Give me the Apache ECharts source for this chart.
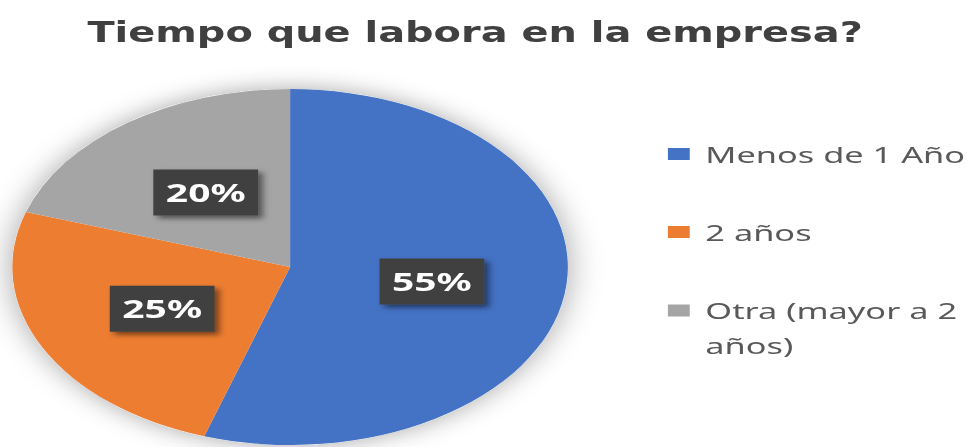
<!DOCTYPE html>
<html><head><meta charset="utf-8">
<script src="https://cdn.jsdelivr.net/npm/echarts@6/dist/echarts.min.js"></script>
<style>
html,body{margin:0;padding:0;background:#fff;overflow:hidden}
#wrap{width:980px;height:447px;overflow:hidden}
#chart{width:628px;height:447px;transform:scaleX(1.5605);transform-origin:0 0}
</style></head>
<body><div id="wrap"><div id="chart"></div></div>
<script>
const titleText = 'Tiempo que labora en la empresa?';
const categories = ['Menos de 1 Año', '2 años', 'Otra (mayor a 2 años)'];
const values = [55, 25, 20];
const colors = ['#4472C4', '#ED7D31', '#A5A5A5'];

const chart = echarts.init(document.getElementById('chart'), null, {renderer: 'svg'});
const legendText = {fontFamily: '"Noto Sans", sans-serif', fontSize: 22, color: '#595959', padding: [0, 0, 0, 5]};
const center = [185.9, 267];
const option = {
  animation: false,
  title: {
    text: titleText, left: 56, top: 12, padding: 0,
    textStyle: {fontFamily: '"Liberation Sans Narrow", "DejaVu Sans Condensed", sans-serif', fontWeight: 'bold', fontSize: 28.4, lineHeight: 40, color: '#404040'}
  },
  legend: [
    {
      orient: 'vertical', left: 428, top: 140, padding: 0, itemGap: 50,
      icon: 'rect', itemWidth: 14, itemHeight: 12, selectedMode: false,
      data: [categories[0], categories[1]],
      textStyle: Object.assign({lineHeight: 28}, legendText)
    },
    {
      orient: 'vertical', left: 428, top: 258, padding: 0,
      icon: 'rect', itemWidth: 14, itemHeight: 12, selectedMode: false,
      data: [categories[2]],
      formatter: function (n) { return '\n' + n.replace(' a 2 ', ' a 2\n'); },
      textStyle: Object.assign({lineHeight: 35}, legendText)
    }
  ],
  series: [
    {
      type: 'pie', silent: true, center: center, radius: 178,
      data: [{value: 1, name: 'sombra'}],
      itemStyle: {color: '#ffffff', shadowBlur: 22, shadowColor: 'rgba(0,0,0,0.35)'},
      label: {show: false}, labelLine: {show: false}, emphasis: {disabled: true}
    },
    {
      type: 'pie', center: center, radius: 178, startAngle: 90, clockwise: true,
      data: categories.map((c, i) => ({name: c, value: values[i], itemStyle: {color: colors[i]}})),
      itemStyle: {borderWidth: 0},
      label: {
        show: true, position: 'inside', formatter: '{c}%',
        color: '#ffffff', fontFamily: '"Noto Sans", sans-serif', fontWeight: 'bold', fontSize: 25, lineHeight: 28,
        backgroundColor: '#404040', padding: [9, 8],
        shadowColor: 'rgba(0,0,0,0.5)', shadowBlur: 5, shadowOffsetX: 3, shadowOffsetY: 3
      },
      labelLine: {show: false},
      emphasis: {disabled: true}
    }
  ]
};
chart.setOption(option);
</script>
</body></html>
